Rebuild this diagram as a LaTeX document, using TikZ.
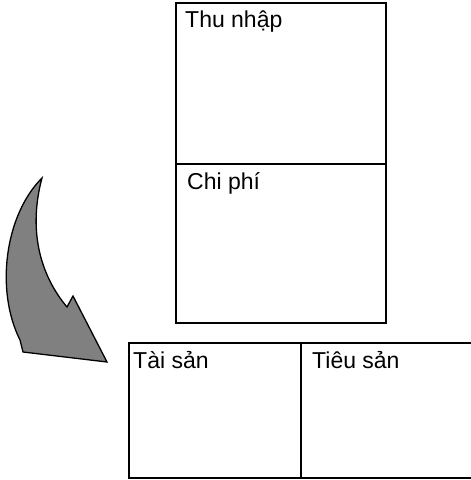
\documentclass[tikz,border=0pt]{standalone}
\usepackage{fontspec}
\setmainfont{Liberation Sans}
\begin{document}
\begin{tikzpicture}[x=1pt,y=-1pt,
  boxline/.style={draw=black,line width=1.3pt},
  lbl/.style={anchor=base west,inner sep=0pt,font=\fontsize{23}{27}\selectfont},
  arrowshape/.style={draw=black,line width=1.3pt,fill=black!50,line join=miter}]
\useasboundingbox (0,0) rectangle (471,480);
\clip (0,0) rectangle (471,480);
% top box
\coordinate (tl) at (176,3);
\coordinate (br) at (386,323);
\draw[boxline] (tl) rectangle (br);
\coordinate (ml) at (176,164);
\coordinate (mr) at (386,164);
\draw[boxline] (ml) -- (mr);
\node[lbl] (thu) at (185,27) {Thu nhập};
\node[lbl] (chi) at (187,189) {Chi phí};
% bottom boxes
\coordinate (btl) at (129,343);
\coordinate (bbr) at (490,478);
\draw[boxline] (btl) rectangle (bbr);
\coordinate (dt) at (301,343);
\coordinate (db) at (301,478);
\draw[boxline] (dt) -- (db);
\node[lbl] (tai) at (133,368) {Tài sản};
\node[lbl] (tieu) at (312,368) {Tiêu sản};
% curved arrow
\draw[arrowshape] (42,178) .. controls (5,215) and (-5,290) .. (20,340)
  -- (23,352) -- (107,362) -- (73,296) -- (67,307)
  .. controls (40,275) and (28,230) .. (42,178) -- cycle;
\end{tikzpicture}
\end{document}
